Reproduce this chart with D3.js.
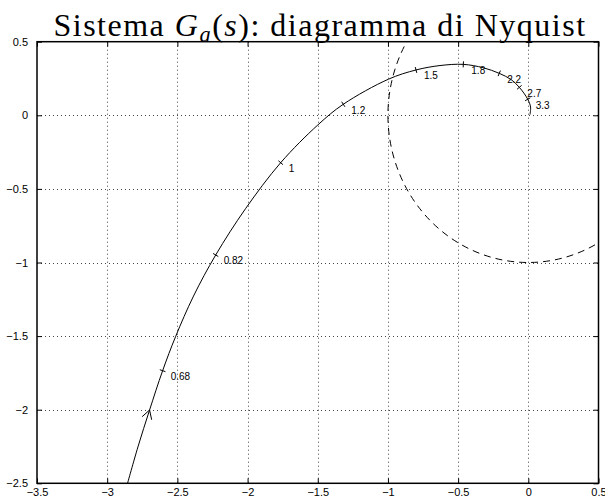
<!DOCTYPE html>
<html>
<head>
<meta charset="utf-8">
<script src="https://cdn.jsdelivr.net/npm/d3@7"></script>
<style>
  html, body { margin: 0; padding: 0; background: #fff; }
  svg { display: block; }
</style>
</head>
<body>
<svg id="chart" width="605" height="502"></svg>
<script>
// ---- data ----
const xTicks = [-3.5, -3, -2.5, -2, -1.5, -1, -0.5, 0, 0.5];
const yTicks = [-2.5, -2, -1.5, -1, -0.5, 0, 0.5];
const curveRe = [-2.857, -2.781, -2.698, -2.605, -2.513, -2.385, -2.227, -2.015, -1.764, -1.500, -1.318, -0.997, -0.800, -0.629, -0.463, -0.321, -0.207, -0.123, -0.064, -0.004, 0.016, 0.012];
const curveIm = [-2.507, -2.253, -2.002, -1.735, -1.504, -1.228, -0.949, -0.635, -0.322, -0.066, 0.075, 0.245, 0.308, 0.338, 0.346, 0.323, 0.285, 0.243, 0.190, 0.109, 0.056, 0.005];
// frequency marks along the curve
const freqLabels = ["0.68", "0.82", "1", "1.2", "1.5", "1.8", "2.2", "2.7", "3.3"];
const freqRe = [-2.605, -2.227, -1.764, -1.318, -0.800, -0.463, -0.207, -0.064, -0.004];
const freqIm = [-1.735, -0.949, -0.322, 0.075, 0.308, 0.346, 0.285, 0.190, 0.109];
// direction arrow
const arrowRe = [-2.698];
const arrowIm = [-2.002];
// unit circle reference
const circleCenter = [0, 0];
const circleRadius = 1;

// ---- layout ----
const svg = d3.select("#chart");
const x = d3.scaleLinear().domain([-3.5, 0.5]).range([37, 598.5]);
const y = d3.scaleLinear().domain([-2.5, 0.5]).range([483.3, 41.7]);
const [x0, x1] = x.range();
const [y0, y1] = y.range();
const fmt = d => (d < 0 ? "\u2212" : "") + Math.abs(d);

svg.append("defs").append("clipPath").attr("id", "clip")
  .append("rect").attr("x", x0).attr("y", y1).attr("width", x1 - x0).attr("height", y0 - y1);

// grid
const grid = svg.append("g").attr("stroke", "#444").attr("stroke-width", 1).attr("stroke-dasharray", "1,3");
grid.selectAll("line.gx").data(xTicks.slice(1, -1)).join("line")
  .attr("x1", d => Math.round(x(d)) + 0.5).attr("x2", d => Math.round(x(d)) + 0.5)
  .attr("y1", y1).attr("y2", y0);
grid.selectAll("line.gy").data(yTicks.slice(1, -1)).join("line")
  .attr("y1", d => Math.round(y(d)) + 0.5).attr("y2", d => Math.round(y(d)) + 0.5)
  .attr("x1", x0).attr("x2", x1);

// unit circle (dashed)
svg.append("ellipse")
  .attr("clip-path", "url(#clip)")
  .attr("cx", x(circleCenter[0])).attr("cy", y(circleCenter[1]))
  .attr("rx", x(circleRadius) - x(0)).attr("ry", y(0) - y(circleRadius))
  .attr("fill", "none").attr("stroke", "#000").attr("stroke-width", 1)
  .attr("stroke-dasharray", "7,5");

// curve
const pts = curveRe.map((r, i) => [x(r), y(curveIm[i])]);
svg.append("path")
  .attr("clip-path", "url(#clip)")
  .attr("d", d3.line().curve(d3.curveCatmullRom.alpha(0.5))(pts))
  .attr("fill", "none").attr("stroke", "#000").attr("stroke-width", 1);

// frequency ticks + labels
const fp = freqRe.map((r, i) => [x(r), y(freqIm[i])]);
fp.forEach((p, i) => {
  let k = 0, best = Infinity;
  pts.forEach((q, j) => { const d = Math.hypot(q[0] - p[0], q[1] - p[1]); if (d < best) { best = d; k = j; } });
  const a = pts[Math.max(0, k - 1)], b = pts[Math.min(pts.length - 1, k + 1)];
  let dx = b[0] - a[0], dy = b[1] - a[1];
  const L = Math.hypot(dx, dy); dx /= L; dy /= L;
  const nx = -dy * 3, ny = dx * 3;
  svg.append("line")
    .attr("x1", p[0] - nx).attr("y1", p[1] - ny)
    .attr("x2", p[0] + nx).attr("y2", p[1] + ny)
    .attr("stroke", "#000").attr("stroke-width", 1);
  svg.append("text")
    .attr("x", p[0] + 8).attr("y", p[1] + 6).attr("dy", "0.35em")
    .attr("font-family", "Liberation Sans, Arial, sans-serif").attr("font-size", 10)
    .text(freqLabels[i]);
});

// arrow
arrowRe.forEach((r, i) => {
  const tip = [x(r), y(arrowIm[i])];
  const p0 = pts[1], p1 = pts[3];
  let dx = p1[0] - p0[0], dy = p1[1] - p0[1];
  const L = Math.hypot(dx, dy); dx /= L; dy /= L;
  const bx = -dx, by = -dy, len = 10, ang = Math.PI / 6;
  const rot = (vx, vy, t) => [vx * Math.cos(t) - vy * Math.sin(t), vx * Math.sin(t) + vy * Math.cos(t)];
  const l = rot(bx, by, ang), rr = rot(bx, by, -ang);
  svg.append("path")
    .attr("d", `M${tip[0] + l[0] * len},${tip[1] + l[1] * len}L${tip[0]},${tip[1]}L${tip[0] + rr[0] * len},${tip[1] + rr[1] * len}`)
    .attr("fill", "none").attr("stroke", "#000").attr("stroke-width", 1);
});

// axes
const font = "Liberation Sans, Arial, Helvetica, sans-serif";
const gx = svg.append("g").attr("transform", `translate(0,${y0})`)
  .call(d3.axisBottom(x).tickValues(xTicks).tickFormat(fmt).tickSizeInner(-5).tickSizeOuter(0).tickPadding(5));
const gxt = svg.append("g").attr("transform", `translate(0,${y1})`)
  .call(d3.axisTop(x).tickValues(xTicks).tickFormat("").tickSizeInner(-5).tickSizeOuter(0));
const gy = svg.append("g").attr("transform", `translate(${x0},0)`)
  .call(d3.axisLeft(y).tickValues(yTicks).tickFormat(fmt).tickSizeInner(-5).tickSizeOuter(0).tickPadding(9));
const gyr = svg.append("g").attr("transform", `translate(${x1},0)`)
  .call(d3.axisRight(y).tickValues(yTicks).tickFormat("").tickSizeInner(-5).tickSizeOuter(0));
[gx, gxt, gy, gyr].forEach(g => {
  g.select(".domain").remove();
  g.selectAll("line").attr("stroke", "#000");
  g.selectAll("text").attr("font-family", font).attr("font-size", 11).attr("fill", "#000");
});

// box
svg.append("rect").attr("x", x0).attr("y", y1).attr("width", x1 - x0).attr("height", y0 - y1)
  .attr("fill", "none").attr("stroke", "#000").attr("stroke-width", 1.5);

// title
const fs = 32;
const title = svg.append("text")
  .attr("x", 320).attr("y", 36).attr("text-anchor", "middle")
  .attr("font-family", "Liberation Serif, Times New Roman, serif").attr("font-size", fs);
title.append("tspan").text("Sistema ");
title.append("tspan").attr("font-style", "italic").text("G");
title.append("tspan").attr("font-style", "italic").attr("font-size", fs * 0.7).attr("dy", fs * 0.18).text("a");
title.append("tspan").attr("dy", -fs * 0.18).text("(");
title.append("tspan").attr("font-style", "italic").text("s");
title.append("tspan").text("): diagramma di Nyquist");
const tw = title.node().getComputedTextLength();
const nChars = title.text().length;
const target = 533;
title.attr("letter-spacing", Math.max(0, (target - tw) / nChars));
</script>
</body>
</html>
